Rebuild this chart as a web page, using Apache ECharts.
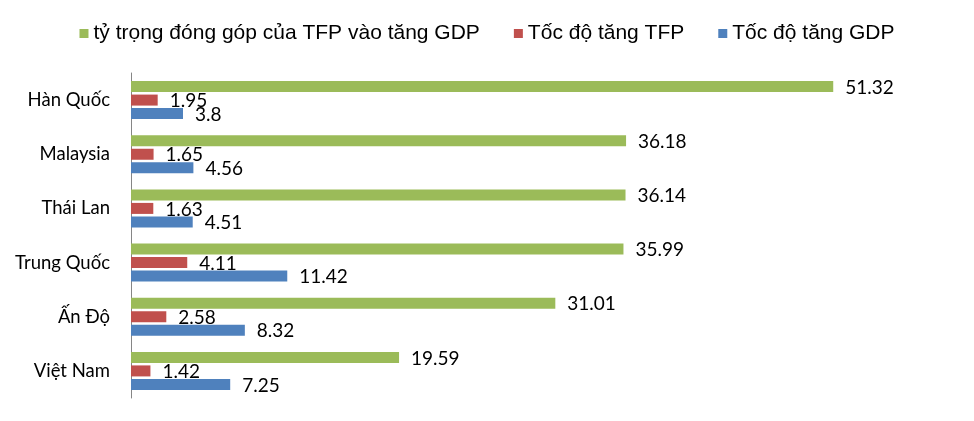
<!DOCTYPE html>
<html>
<head>
<meta charset="utf-8">
<script src="https://cdn.jsdelivr.net/npm/echarts@6/dist/echarts.min.js"></script>
<style>
html,body{margin:0;padding:0;background:#fff;}
#main{width:974px;height:421px;}
</style>
</head>
<body>
<div id="main"></div>
<script>
// danh sách quốc gia (từ dưới lên trên)
var countries = ['Việt Nam', 'Ấn Độ', 'Trung Quốc', 'Thái Lan', 'Malaysia', 'Hàn Quốc'];
var tfpShare = [19.59, 31.01, 35.99, 36.14, 36.18, 51.32];   // tỷ trọng đóng góp
var tfpGrowth = [1.42, 2.58, 4.11, 1.63, 1.65, 1.95];        // tốc độ tăng TFP
var gdpGrowth = [7.25, 8.32, 11.42, 4.51, 4.56, 3.8];        // tốc độ tăng GDP
var seriesNames = ['tỷ trọng đóng góp của TFP vào tăng GDP', 'Tốc độ tăng TFP', 'Tốc độ tăng GDP'];

var labelStyle = {
	show: true,
	position: 'right',
	distance: 12,
	color: '#000',
	fontFamily: 'Lato',
	fontSize: 19,
	offset: [0, 1]
};

var myChart = echarts.init(document.getElementById('main'));
var option = {
	animation: false,
	legend: {
		data: seriesNames,
		top: 18,
		left: 'center',
		icon: 'rect',
		itemWidth: 9,
		itemHeight: 9,
		itemGap: 34,
		textStyle: {
			fontFamily: 'Liberation Sans',
			fontSize: 21,
			color: '#000'
		}
	},
	grid: {
		left: 131,
		right: 22,
		top: 73,
		bottom: 23
	},
	xAxis: {
		type: 'value',
		min: 0,
		max: 60,
		show: false
	},
	yAxis: {
		type: 'category',
		data: countries,
		axisLine: { lineStyle: { color: '#868686' } },
		axisTick: { show: false },
		axisLabel: {
			margin: 21,
			color: '#000',
			fontFamily: 'Lato',
			fontSize: 18.5
		}
	},
	series: [
		{
			name: seriesNames[0],
			type: 'bar',
			data: tfpShare,
			barWidth: 11,
			barGap: '23%',
			itemStyle: { color: '#9BBB59' },
			label: labelStyle
		},
		{
			name: seriesNames[1],
			type: 'bar',
			data: tfpGrowth,
			barWidth: 11,
			barGap: '23%',
			itemStyle: { color: '#C0504D' },
			label: labelStyle
		},
		{
			name: seriesNames[2],
			type: 'bar',
			data: gdpGrowth,
			barWidth: 11,
			barGap: '23%',
			itemStyle: { color: '#4F81BD' },
			label: labelStyle
		}
	]
};
myChart.setOption(option);
</script>
</body>
</html>
